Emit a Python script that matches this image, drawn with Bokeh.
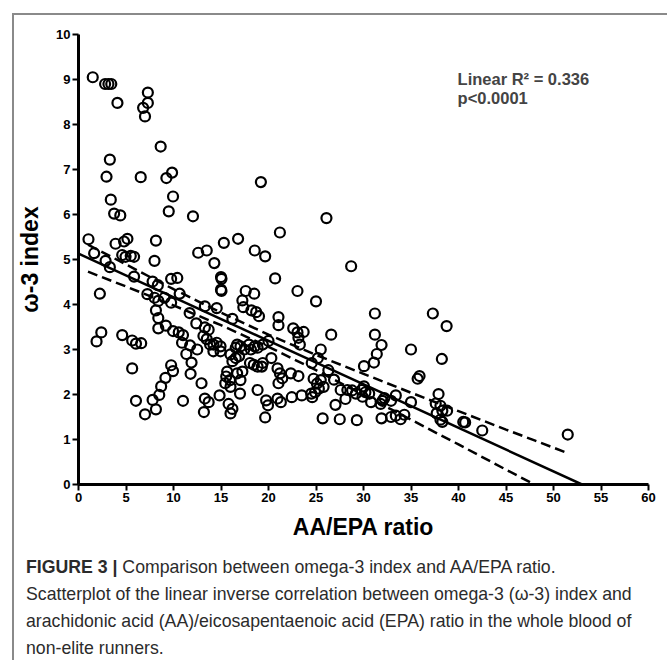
from bokeh.plotting import figure
from bokeh.models import Range1d, FixedTicker, Label, Div
from bokeh.layouts import column
from bokeh.embed import file_html
from bokeh.resources import INLINE

# ---- data ----
aa_epa = [
    1.5, 2.8, 3.15, 3.45, 4.1, 7.3, 7.3, 6.8, 7.0, 8.65, 3.3, 2.95, 6.55, 9.25, 9.85, 3.4, 9.95, 3.75, 4.4, 9.5, 12.05,
    1.05, 1.65, 3.9, 4.8, 5.15, 4.6, 4.95, 5.5, 5.85, 8.15, 8.0, 12.6, 2.85, 3.3, 5.85, 2.25, 9.75, 10.4, 7.25, 7.8,
    8.35, 10.65, 8.0, 8.4, 9.05, 9.75, 8.15, 8.4, 8.4, 9.2, 9.95, 10.55, 11.0, 11.7, 12.4, 1.9, 2.4, 4.6, 5.65, 6.05,
    6.6, 5.65, 10.9, 11.75, 12.5, 11.35, 11.9, 11.8, 9.75, 9.95, 9.15, 8.7, 8.5, 7.8, 8.15, 7.0, 6.05, 11.0,
    21.2, 15.3, 16.8, 13.5, 18.55, 19.65, 14.3, 15.0, 15.05, 15.0, 15.05, 20.7, 23.05, 25.0, 17.6, 18.5, 17.25, 17.35,
    18.2, 18.7, 19.0, 21.05, 21.05, 22.6, 23.05, 23.7, 23.15, 23.3, 13.3, 14.55, 16.2, 13.3, 13.7, 13.15, 13.5, 13.85,
    14.2, 14.55, 14.95, 14.2, 14.95, 16.0, 16.55, 16.7, 17.05, 17.45, 16.55, 16.9, 16.2, 15.65, 15.55, 15.95, 15.45,
    16.0, 16.7, 17.25, 17.05, 17.0, 18.05, 18.45, 18.85, 19.3, 19.4, 17.95, 18.15, 18.55, 18.85, 19.4, 20.0, 20.3,
    18.85, 19.75, 19.95, 19.65, 20.95, 21.2, 21.45, 21.05, 21.3, 20.95, 22.35, 23.15, 22.45, 23.5, 24.5, 12.95, 13.3,
    13.7, 13.2, 14.85, 15.8, 16.2, 16.0, 24.55, 25.2,
    31.2, 31.2, 31.9, 31.4, 31.1, 30.05, 35.0, 35.9, 35.7, 26.6, 25.5, 26.9, 26.3, 24.75, 25.1, 25.3, 25.8, 24.9,
    24.6, 25.5, 27.6, 28.3, 28.1, 27.05, 28.8, 29.2, 29.8, 30.05, 30.2, 29.9, 30.8, 30.6, 32.0, 31.8, 32.2, 32.9,
    33.4, 35.0, 25.7, 27.5, 29.3, 31.9, 32.9, 33.4, 33.9, 34.3, 37.3,
    19.2, 26.1, 28.7,
    38.75, 38.25, 37.9, 37.6, 38.1, 38.3, 38.8, 37.7, 38.1, 38.3, 40.5, 40.7, 42.5, 51.5,
]
omega3_index = [
    9.05, 8.9, 8.9, 8.9, 8.48, 8.71, 8.48, 8.37, 8.18, 7.51, 7.22, 6.84, 6.83, 6.81, 6.93, 6.33, 6.4, 6.02, 5.98, 6.07, 5.96,
    5.45, 5.14, 5.35, 5.4, 5.46, 5.1, 5.06, 5.08, 5.06, 5.42, 4.97, 5.15, 4.97, 4.83, 4.62, 4.24, 4.57, 4.59, 4.23, 4.51,
    4.43, 4.24, 4.15, 4.08, 4.15, 4.04, 3.87, 3.7, 3.47, 3.53, 3.41, 3.38, 3.32, 3.81, 3.58, 3.18, 3.38, 3.32, 3.2, 3.13,
    3.14, 2.58, 3.15, 3.09, 3.0, 2.9, 2.71, 2.46, 2.65, 2.52, 2.37, 2.18, 1.99, 1.88, 1.67, 1.56, 1.86, 1.86,
    5.6, 5.37, 5.46, 5.2, 5.2, 5.07, 4.92, 4.61, 4.57, 4.33, 4.3, 4.58, 4.3, 4.07, 4.3, 4.24, 4.09, 3.94,
    3.87, 3.83, 3.74, 3.72, 3.54, 3.47, 3.38, 3.39, 3.26, 3.11, 3.96, 3.92, 3.68, 3.49, 3.44, 3.3, 3.23, 3.11,
    3.11, 3.15, 3.07, 2.96, 2.96, 2.89, 3.04, 3.11, 3.07, 3.0, 2.81, 2.85, 2.74, 2.51, 2.4, 2.32, 2.25,
    2.17, 2.47, 2.51, 2.32, 2.02, 2.7, 2.66, 2.62, 2.62, 2.7, 3.11, 3.0, 3.07, 3.04, 3.11, 3.19, 2.81,
    2.1, 1.87, 1.76, 1.49, 2.58, 2.47, 2.36, 2.25, 1.83, 1.91, 2.47, 2.41, 1.94, 1.98, 2.02, 2.25, 1.91,
    1.83, 1.61, 1.98, 1.79, 1.68, 1.58, 2.7, 2.81,
    3.8, 3.33, 3.1, 2.9, 2.71, 2.63, 3.0, 2.41, 2.35, 3.33, 3.0, 2.33, 2.54, 2.35, 2.24, 2.13, 2.17, 2.05,
    1.94, 2.32, 2.1, 2.1, 1.9, 1.77, 2.09, 2.02, 2.1, 2.18, 2.05, 1.95, 1.83, 2.02, 1.86, 1.79, 1.92, 1.86,
    1.98, 1.83, 1.47, 1.45, 1.43, 1.47, 1.5, 1.53, 1.45, 1.55, 3.8,
    6.72, 5.92, 4.85,
    3.52, 2.79, 2.01, 1.8, 1.75, 1.64, 1.64, 1.58, 1.44, 1.39, 1.39, 1.38, 1.2, 1.11,
]

# regression line and 95% band
fit_x = [0, 53.0]
fit_y = [5.13, 0.0]
band_x = [1, 5, 10, 15, 20, 25, 30, 35, 40, 45, 48, 51.6]
band_upper = [5.33, 4.89, 4.34, 3.82, 3.33, 2.88, 2.46, 2.04, 1.63, 1.22, 0.98, 0.69]
band_lower_x = [1, 5, 10, 15, 20, 25, 30, 35, 40, 45, 48]
band_lower = [4.73, 4.40, 3.98, 3.54, 3.06, 2.54, 1.99, 1.44, 0.89, 0.33, 0.0]

x_ticks = [0, 5, 10, 15, 20, 25, 30, 35, 40, 45, 50, 55, 60]
y_ticks = [0, 1, 2, 3, 4, 5, 6, 7, 8, 9, 10]

FONT = "Liberation Sans"

p = figure(width=648, height=530, output_backend="svg", toolbar_location=None,
           x_range=Range1d(0, 60), y_range=Range1d(0, 10))
p.min_border_left = 64
p.min_border_right = 14
p.min_border_top = 19
p.min_border_bottom = 61
p.outline_line_color = None
p.grid.visible = False
p.background_fill_color = "white"
p.border_fill_color = "white"

for ax in (p.xaxis[0], p.yaxis[0]):
    ax.axis_line_width = 3
    ax.axis_line_color = "black"
    ax.major_tick_line_width = 2
    ax.major_tick_line_color = "black"
    ax.major_tick_out = 6
    ax.major_tick_in = 0
    ax.minor_tick_line_color = None
    ax.major_label_text_font = FONT
    ax.major_label_text_font_style = "bold"
    ax.major_label_text_font_size = "13px"
    ax.major_label_text_color = "black"
    ax.major_label_standoff = 2
    ax.axis_label_text_font = FONT
    ax.axis_label_text_font_style = "bold"
    ax.axis_label_text_font_size = "23px"
    ax.axis_label_text_color = "black"

p.xaxis.ticker = FixedTicker(ticks=x_ticks)
p.yaxis.ticker = FixedTicker(ticks=y_ticks)
p.xaxis.axis_label = "AA/EPA ratio"
p.yaxis.axis_label = "ω-3 index"
p.xaxis.axis_label_standoff = 9
p.yaxis.axis_label_standoff = 10

p.line(fit_x, fit_y, line_color="black", line_width=2.5)
p.line(band_x, band_upper, line_color="black", line_width=2.5, line_dash="10 5")
p.line(band_lower_x, band_lower, line_color="black", line_width=2.5, line_dash="10 5")

p.scatter(aa_epa, omega3_index, marker="circle", size=10, fill_color=None,
          line_color="black", line_width=2.2)

p.add_layout(Label(x=39.9, y=9.02, text="Linear R² = 0.336", text_font=FONT,
                   text_font_style="bold", text_font_size="16.5px", text_baseline="middle"))
p.add_layout(Label(x=39.9, y=8.6, text="p<0.0001", text_font=FONT,
                   text_font_style="bold", text_font_size="16.5px", text_baseline="middle"))

caption = Div(
    text=("<b>FIGURE 3 |</b> Comparison between omega-3 index and AA/EPA ratio.<br>"
          "Scatterplot of the linear inverse correlation between omega-3 (ω-3) index and<br>"
          "arachidonic acid (AA)/eicosapentaenoic acid (EPA) ratio in the whole blood of<br>"
          "non-elite runners."),
    width=648, height=113,
    styles={"font-family": "'Liberation Sans', Arial, sans-serif", "font-size": "17.7px",
            "line-height": "27px", "color": "#2b2b2b", "white-space": "nowrap",
            "padding-left": "7px", "padding-top": "4px", "box-sizing": "border-box",
            "overflow": "hidden"},
)

inner = column(p, caption, spacing=0,
               styles={"border": "2px solid #8a8a8a", "border-bottom": "0px",
                       "margin-left": "12px", "margin-top": "13px", "background": "white"})
root = column(inner)

open("out.html", "w").write(file_html(root, INLINE))
